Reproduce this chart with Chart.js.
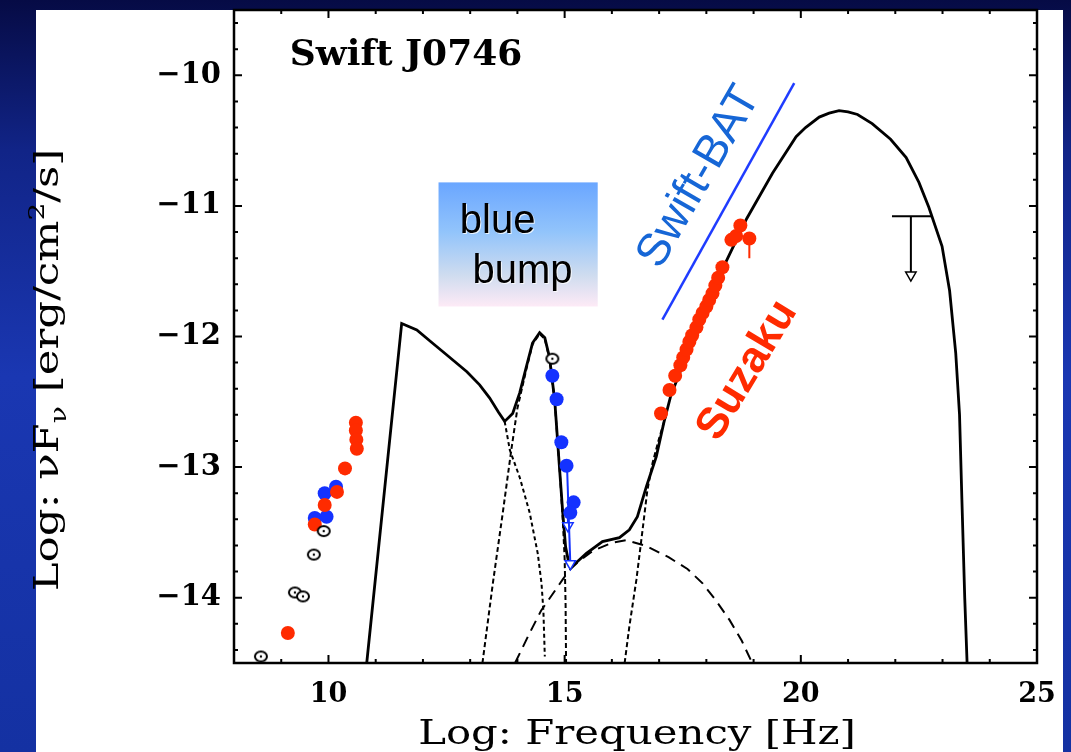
<!DOCTYPE html>
<html>
<head>
<meta charset="utf-8">
<script src="https://cdn.jsdelivr.net/npm/chart.js@4.4.0/dist/chart.umd.min.js"></script>
<style>
  html, body { margin: 0; padding: 0; background: #0f1f80; }
  #wrap { width: 1071px; height: 752px; }
</style>
</head>
<body>
<div id="wrap"><canvas id="sedChart" width="1071" height="752"></canvas></div>
<script>
// axis ticks
const xTickValues = [10, 15, 20, 25];
const yTickValues = [-14, -13, -12, -11, -10];

// total model (solid)
const totalX = [10.81, 11.55, 11.87, 12.2, 12.5, 12.93, 13.2, 13.41, 13.6, 13.73, 13.9, 14.05, 14.19, 14.32, 14.47, 14.58, 14.68, 14.79, 14.89, 14.96, 15.02, 15.08, 15.15, 15.25, 15.46, 15.8, 16.16, 16.37, 16.54, 16.73, 16.94, 17.1, 17.25, 17.5, 17.8, 18.1, 18.4, 18.85, 19.4, 19.9, 20.1, 20.39, 20.6, 20.81, 21.0, 21.2, 21.51, 21.9, 22.23, 22.5, 22.71, 22.99, 23.15, 23.28, 23.36, 23.41, 23.47, 23.52];
const totalY = [-14.5, -11.90, -11.95, -12.05, -12.14, -12.27, -12.37, -12.47, -12.58, -12.65, -12.59, -12.43, -12.23, -12.05, -11.97, -12.01, -12.16, -12.49, -13.0, -13.35, -13.61, -13.72, -13.76, -13.73, -13.66, -13.57, -13.54, -13.48, -13.38, -13.15, -12.92, -12.66, -12.45, -12.22, -11.96, -11.70, -11.44, -11.10, -10.75, -10.47, -10.40, -10.32, -10.29, -10.27, -10.28, -10.30, -10.37, -10.49, -10.63, -10.82, -11.01, -11.31, -11.65, -12.13, -12.6, -13.25, -14.0, -14.5];

// model components (dashed)
const syncX = [13.73, 13.84, 14.05, 14.26, 14.43, 14.51, 14.55, 14.58];
const syncY = [-12.65, -12.87, -13.08, -13.35, -13.66, -13.89, -14.1, -14.45];
const diskX = [13.26, 13.48, 13.69, 13.87, 14.0, 14.19, 14.32, 14.47, 14.58, 14.68, 14.79, 14.89, 14.96, 15.0, 15.02, 15.03];
const diskY = [-14.5, -13.89, -13.35, -12.87, -12.55, -12.25, -12.06, -11.98, -12.02, -12.17, -12.5, -13.0, -13.4, -13.7, -14.05, -14.5];
const sscX = [13.95, 14.26, 14.5, 14.75, 14.96, 15.1, 15.3, 15.6, 16.0, 16.3, 16.7, 17.2, 17.6, 17.92, 18.2, 18.49, 18.75, 18.97];
const sscY = [-14.5, -14.27, -14.1, -13.97, -13.86, -13.79, -13.72, -13.64, -13.58, -13.56, -13.6, -13.69, -13.78, -13.89, -14.02, -14.17, -14.33, -14.5];
const ecX = [16.27, 16.37, 16.52, 16.65, 16.75, 16.86, 17.0, 17.15];
const ecY = [-14.5, -14.22, -13.86, -13.48, -13.18, -12.97, -12.78, -12.6];

// data points
const radioRedX = [9.14, 9.71, 9.92, 10.18, 10.35, 10.58, 10.58, 10.59, 10.6];
const radioRedY = [-14.27, -13.44, -13.29, -13.19, -13.01, -12.66, -12.72, -12.79, -12.86];
const radioBlueX = [9.71, 9.92, 9.96, 10.16];
const radioBlueY = [-13.39, -13.20, -13.38, -13.15];
const archiveX = [8.57, 9.29, 9.46, 9.69, 9.90, 14.74];
const archiveY = [-14.45, -13.96, -13.99, -13.67, -13.49, -12.17];
const uvotX = [14.74, 14.83, 14.93, 15.04, 15.19, 15.12];
const uvotY = [-12.30, -12.48, -12.81, -12.99, -13.27, -13.35];
const suzakuX = [17.04, 17.22, 17.34, 17.45, 17.51, 17.58, 17.64, 17.70, 17.79, 17.85, 17.92, 18.00, 18.06, 18.13, 18.19, 18.25, 18.34, 18.53, 18.63, 18.72, 18.91];
const suzakuY = [-12.59, -12.41, -12.30, -12.22, -12.16, -12.10, -12.04, -11.99, -11.93, -11.87, -11.82, -11.77, -11.72, -11.67, -11.61, -11.55, -11.47, -11.26, -11.23, -11.15, -11.25];
const suzakuErrX = [18.91, 18.91];
const suzakuErrY = [-11.25, -11.40];

// upper limits
const uvLimitX = [15.05, 15.12];
const uvLimitY = [-12.99, -13.74];
const uvLimit2X = [15.07, 15.07];
const uvLimit2Y = [-13.30, -13.45];
const gammaBarX = [21.93, 22.76];
const gammaBarY = [-11.08, -11.08];
const gammaArrowX = [22.33, 22.33];
const gammaArrowY = [-11.08, -11.53];

// Swift-BAT band
const batX = [17.07, 19.86];
const batY = [-11.87, -10.06];

const pts = (xs, ys) => xs.map((x, i) => ({ x: x, y: ys[i] }));

const RED = '#ff2b00';
const BLUE = '#1432ff';

// open circle with dot
function dotCircle() {
    const c = document.createElement('canvas');
    c.width = 16; c.height = 14;
    const g = c.getContext('2d');
    g.beginPath();
    g.ellipse(8, 7, 6, 5, 0, 0, Math.PI * 2);
    g.fillStyle = '#fff';
    g.fill();
    g.lineWidth = 2;
    g.strokeStyle = '#000';
    g.stroke();
    g.beginPath();
    g.arc(8, 7, 1.2, 0, Math.PI * 2);
    g.fillStyle = '#000';
    g.fill();
    return c;
}

function lineSet(xs, ys, color, width, dash) {
    return {
        data: pts(xs, ys),
        showLine: true,
        borderColor: color,
        borderWidth: width,
        borderDash: dash || [],
        pointRadius: 0,
        tension: 0,
        fill: false
    };
}

function pointSet(xs, ys, color, r) {
    return {
        data: pts(xs, ys),
        showLine: false,
        pointStyle: 'circle',
        pointRadius: r,
        pointBackgroundColor: color,
        pointBorderColor: color,
        pointBorderWidth: 0
    };
}

function arrowSet(xs, ys, color) {
    return {
        data: pts(xs, ys),
        showLine: true,
        borderColor: color,
        borderWidth: 2,
        pointStyle: 'triangle',
        pointRotation: 180,
        pointRadius: [0, 6],
        pointBackgroundColor: '#fff',
        pointBorderColor: color,
        pointBorderWidth: 1.5,
        tension: 0
    };
}

const sedDecor = {
    id: 'sedDecor',
    beforeDraw(chart) {
        const { ctx } = chart;
        ctx.save();
        const bg = ctx.createLinearGradient(0, 0, 0, 752);
        bg.addColorStop(0, '#060b45');
        bg.addColorStop(0.2, '#112487');
        bg.addColorStop(0.5, '#1a37b2');
        bg.addColorStop(1, '#1431a2');
        ctx.fillStyle = bg;
        ctx.fillRect(0, 0, 1071, 752);
        ctx.fillStyle = '#fff';
        ctx.fillRect(36, 10, 1027, 742);
        ctx.restore();
    },
    beforeDatasetsDraw(chart) {
        const { ctx, scales: { x, y } } = chart;
        ctx.save();
        // blue bump box
        const bx1 = x.getPixelForValue(12.33), bx2 = x.getPixelForValue(15.70);
        const by1 = y.getPixelForValue(-10.82), by2 = y.getPixelForValue(-11.77);
        const gr = ctx.createLinearGradient(0, by1, 0, by2);
        gr.addColorStop(0, '#6aa6ff');
        gr.addColorStop(0.4, '#92c4fb');
        gr.addColorStop(0.75, '#cfdcef');
        gr.addColorStop(1, '#fdeaf6');
        ctx.fillStyle = gr;
        ctx.fillRect(bx1, by1, bx2 - bx1, by2 - by1);
        ctx.fillStyle = '#000';
        ctx.font = '40px "Liberation Sans", Arial, sans-serif';
        ctx.textAlign = 'left';
        ctx.textBaseline = 'alphabetic';
        ctx.shadowColor = 'rgba(255,255,255,0.8)';
        ctx.shadowOffsetX = 1; ctx.shadowOffsetY = 1;
        ctx.fillText('blue', x.getPixelForValue(12.78), y.getPixelForValue(-11.21));
        ctx.fillText('bump', x.getPixelForValue(13.05), y.getPixelForValue(-11.59));
        ctx.restore();
    },
    afterDatasetsDraw(chart) {
        const { ctx, chartArea: { left, right, top, bottom }, scales: { x, y } } = chart;
        ctx.save();
        ctx.strokeStyle = '#000';
        ctx.lineWidth = 2.5;
        ctx.strokeRect(left, top, right - left, bottom - top);
        ctx.lineWidth = 2;
        ctx.beginPath();
        for (let v = 8; v <= 25; v++) {
            const px = x.getPixelForValue(v);
            const len = v % 5 === 0 ? 8 : 4;
            ctx.moveTo(px, bottom); ctx.lineTo(px, bottom - len);
            ctx.moveTo(px, top); ctx.lineTo(px, top + len);
        }
        for (let k = -72; k <= -48; k++) {
            const py = y.getPixelForValue(k / 5);
            const len = k % 5 === 0 ? 8 : 4;
            ctx.moveTo(left, py); ctx.lineTo(left + len, py);
            ctx.moveTo(right, py); ctx.lineTo(right - len, py);
        }
        ctx.stroke();

        // title
        ctx.fillStyle = '#000';
        ctx.font = 'bold 36px "DejaVu Serif", serif';
        ctx.textAlign = 'left';
        ctx.fillText('Swift J0746', x.getPixelForValue(9.18), y.getPixelForValue(-9.92));

        // Swift-BAT label
        ctx.save();
        ctx.translate(x.getPixelForValue(17.85), y.getPixelForValue(-10.78));
        ctx.rotate(-60 * Math.PI / 180);
        ctx.fillStyle = '#1666d6';
        ctx.font = '46px "Liberation Sans", Arial, sans-serif';
        ctx.textAlign = 'center';
        ctx.textBaseline = 'middle';
        ctx.fillText('Swift-BAT', 0, 0);
        ctx.restore();

        // Suzaku label
        ctx.save();
        ctx.translate(x.getPixelForValue(18.87), y.getPixelForValue(-12.26));
        ctx.rotate(-59 * Math.PI / 180);
        ctx.fillStyle = RED;
        ctx.font = 'bold 44px "Liberation Sans", Arial, sans-serif';
        ctx.textAlign = 'center';
        ctx.textBaseline = 'middle';
        ctx.fillText('Suzaku', 0, 0);
        ctx.restore();

        // x axis title
        ctx.save();
        ctx.font = '34px "DejaVu Serif", serif';
        ctx.textAlign = 'center';
        ctx.textBaseline = 'alphabetic';
        ctx.translate(637, 744);
        ctx.scale(1.23, 1);
        ctx.fillText('Log: Frequency [Hz]', 0, 0);
        ctx.restore();

        // y axis title with sub/superscripts
        ctx.save();
        ctx.translate(58, 370);
        ctx.rotate(-Math.PI / 2);
        ctx.scale(1.28, 1);
        const big = '34px "DejaVu Serif", serif';
        const small = '22px "DejaVu Serif", serif';
        const parts = [
            { t: 'Log: \u03bdF', f: big, dy: 0 },
            { t: '\u03bd', f: small, dy: 8 },
            { t: ' [erg/cm', f: big, dy: 0 },
            { t: '2', f: small, dy: -14 },
            { t: '/s]', f: big, dy: 0 }
        ];
        let total = 0;
        parts.forEach(p => { ctx.font = p.f; p.w = ctx.measureText(p.t).width; total += p.w; });
        let cx = -total / 2;
        ctx.textAlign = 'left';
        ctx.textBaseline = 'alphabetic';
        parts.forEach(p => { ctx.font = p.f; ctx.fillText(p.t, cx, p.dy); cx += p.w; });
        ctx.restore();

        ctx.restore();
    }
};

const ctx = document.getElementById('sedChart').getContext('2d');

const sedChart = new Chart(ctx, {
    type: 'scatter',
    data: {
        datasets: [
            Object.assign(pointSet(archiveX, archiveY, '#000', 7), { pointStyle: dotCircle() }),
            pointSet(radioRedX, radioRedY, RED, 7),
            pointSet(radioBlueX, radioBlueY, BLUE, 7),
            pointSet(uvotX, uvotY, BLUE, 7),
            pointSet(suzakuX, suzakuY, RED, 7),
            lineSet(suzakuErrX, suzakuErrY, RED, 2),
            arrowSet(uvLimitX, uvLimitY, BLUE),
            arrowSet(uvLimit2X, uvLimit2Y, BLUE),
            lineSet(gammaBarX, gammaBarY, '#000', 2),
            arrowSet(gammaArrowX, gammaArrowY, '#000'),
            lineSet(batX, batY, '#1f3cff', 2.5),
            lineSet(totalX, totalY, '#000', 2.8),
            lineSet(syncX, syncY, '#000', 2, [4, 3]),
            lineSet(diskX, diskY, '#000', 2, [5, 3]),
            lineSet(sscX, sscY, '#000', 2, [11, 7]),
            lineSet(ecX, ecY, '#000', 2, [5, 3])
        ]
    },
    options: {
        responsive: false,
        animation: false,
        layout: { padding: { left: 0, right: 34, top: 10, bottom: 0 } },
        plugins: {
            legend: { display: false },
            tooltip: { enabled: false }
        },
        scales: {
            x: {
                type: 'linear',
                min: 8,
                max: 25,
                grid: { display: false },
                border: { display: false },
                afterBuildTicks: (scale) => { scale.ticks = xTickValues.map(v => ({ value: v })); },
                afterFit: (scale) => { scale.height = 89; scale.paddingLeft = 0; scale.paddingRight = 0; },
                ticks: {
                    color: '#000',
                    padding: 8,
                    maxRotation: 0,
                    font: { family: '"DejaVu Serif", serif', weight: 'bold', size: 27 }
                }
            },
            y: {
                type: 'linear',
                min: -14.5,
                max: -9.5,
                grid: { display: false },
                border: { display: false },
                afterBuildTicks: (scale) => { scale.ticks = yTickValues.map(v => ({ value: v })); },
                afterFit: (scale) => { scale.width = 234; scale.paddingTop = 0; scale.paddingBottom = 0; },
                ticks: {
                    color: '#000',
                    padding: 5,
                    font: { family: '"DejaVu Serif", serif', weight: 'bold', size: 29 },
                    callback: (v) => v < 0 ? '\u2212' + Math.abs(v) : String(v)
                }
            }
        }
    },
    plugins: [sedDecor]
});
</script>
</body>
</html>
